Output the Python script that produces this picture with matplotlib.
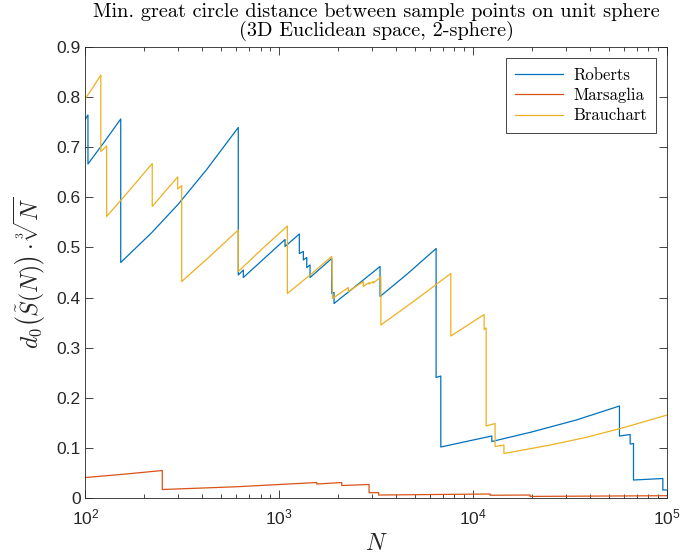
import numpy as np
import matplotlib
matplotlib.use('Agg')
import matplotlib.pyplot as plt
from matplotlib.ticker import LogLocator, FixedLocator, FuncFormatter, NullFormatter

# Data (N, normalised min distance)
roberts_n = [100, 103, 103, 125, 152, 152, 220, 300, 420, 614, 614, 652, 652, 835, 1070,
             1070, 1268, 1268, 1330, 1330, 1385, 1385, 1440, 1440, 1864, 1864, 1915, 1915,
             2500, 3307, 3307, 4600, 6436, 6436, 6804, 6804, 9200, 12474, 12474, 20000,
             34000, 56800, 56800, 64500, 64500, 67100, 67100, 95100, 95100, 100000]
roberts_v = [0.757, 0.765, 0.667, 0.711, 0.757, 0.470, 0.530, 0.586, 0.655, 0.740, 0.445,
             0.455, 0.440, 0.478, 0.516, 0.502, 0.527, 0.488, 0.492, 0.475, 0.480, 0.460,
             0.465, 0.440, 0.478, 0.408, 0.410, 0.388, 0.424, 0.462, 0.402, 0.448, 0.498,
             0.240, 0.243, 0.101, 0.112, 0.123, 0.112, 0.131, 0.155, 0.183, 0.123, 0.126,
             0.107, 0.108, 0.035, 0.038, 0.015, 0.015]

marsaglia_n = [100, 160, 249, 249, 600, 1560, 1560, 2099, 2099, 2903, 2903, 3250, 3250,
               12230, 12230, 19660, 19660, 100000]
marsaglia_v = [0.040, 0.0468, 0.054, 0.016, 0.0215, 0.030, 0.027, 0.030, 0.024, 0.026,
               0.0095, 0.0098, 0.005, 0.007, 0.0045, 0.005, 0.0022, 0.0036]

brauchart_n = [100, 110, 120, 120, 128.6, 128.6, 170, 221, 221, 260, 299, 299, 313.6, 313.6,
               440, 614, 614, 830, 1100, 1100, 1450, 1864, 1880, 2270, 2270, 2713, 2713,
               2900, 2900, 3050, 3050, 3340, 3340, 5000, 7662, 7662, 9300, 11385, 11385,
               11660, 11660, 12970, 12970, 14400, 14400, 25000, 38000, 60000, 100000]
brauchart_v = [0.798, 0.822, 0.845, 0.692, 0.703, 0.562, 0.616, 0.668, 0.582, 0.614, 0.641,
               0.617, 0.624, 0.432, 0.483, 0.535, 0.452, 0.500, 0.543, 0.408, 0.446, 0.482,
               0.398, 0.420, 0.412, 0.432, 0.422, 0.430, 0.427, 0.432, 0.429, 0.441, 0.345,
               0.394, 0.448, 0.323, 0.344, 0.366, 0.336, 0.339, 0.143, 0.148, 0.102, 0.105,
               0.088, 0.105, 0.120, 0.140, 0.165]

y_ticks = [0, 0.1, 0.2, 0.3, 0.4, 0.5, 0.6, 0.7, 0.8, 0.9]

plt.rcParams['mathtext.fontset'] = 'custom'
plt.rcParams['mathtext.rm'] = 'Liberation Sans'
plt.rcParams['mathtext.it'] = 'Liberation Sans:italic'
plt.rcParams['font.family'] = 'Liberation Sans'

dark = (0.15, 0.15, 0.15)

fig = plt.figure(figsize=(6.8, 5.58), dpi=100)
ax = fig.add_axes([0.1257, 0.1084, 0.8553, 0.8065])

ax.plot(roberts_n, roberts_v, color='#0072BD', lw=0.9, label='Roberts')
ax.plot(marsaglia_n, marsaglia_v, color='#D95319', lw=0.9, label='Marsaglia')
ax.plot(brauchart_n, brauchart_v, color='#EDB120', lw=0.9, label='Brauchart')

ax.set_xscale('log')
ax.set_xlim(100, 100000)
ax.set_ylim(0, 0.9)
ax.yaxis.set_major_locator(FixedLocator(y_ticks))
ax.yaxis.set_major_formatter(FuncFormatter(lambda v, p: '%g' % v))
ax.xaxis.set_major_locator(LogLocator(base=10))
ax.xaxis.set_minor_locator(LogLocator(base=10, subs=np.arange(2, 10)))
ax.xaxis.set_minor_formatter(NullFormatter())

ax.tick_params(which='both', direction='in', top=True, right=True, colors=dark,
               labelsize=12.5, width=0.6)
ax.tick_params(which='major', length=5.5)
ax.tick_params(which='minor', length=3)
ax.tick_params(axis='x', pad=7)
for s in ax.spines.values():
    s.set_color(dark)
    s.set_linewidth(0.6)

ax.set_title('Min. great circle distance between sample points on unit sphere\n'
             '(3D Euclidean space, 2-sphere)',
             fontfamily='cmr10', fontsize=14.6, color='black', pad=8, linespacing=1.0)

yl = ax.set_ylabel(r'$d_0\left(\tilde{S}(N)\right)\cdot\sqrt[3]{N}$', fontsize=17,
                   color=dark, labelpad=6)
yl.set_math_fontfamily('cm')
xl = ax.set_xlabel(r'$N$', fontsize=17, color=dark, labelpad=4)
xl.set_math_fontfamily('cm')

leg = ax.legend(loc='upper right', prop={'family': 'cmr10', 'size': 12},
                fancybox=False, edgecolor=dark, framealpha=1,
                handlelength=2.9, handletextpad=0.6, borderpad=0.55,
                labelspacing=0.3, borderaxespad=0.65)
leg.get_frame().set_linewidth(0.6)

fig.savefig('out.png', dpi=100)
